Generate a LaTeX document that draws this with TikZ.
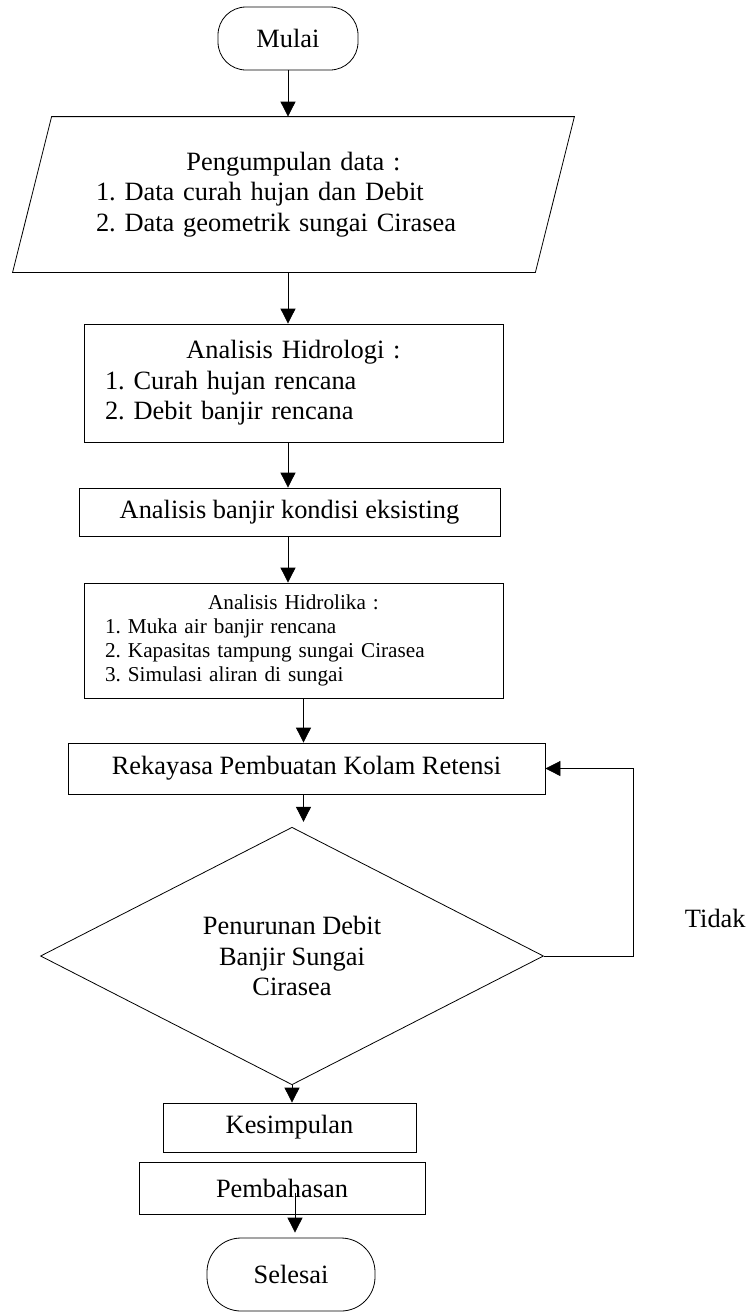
\documentclass[tikz,border=0pt]{standalone}
\usepackage{fontspec}
\setmainfont{Liberation Serif}
\usetikzlibrary{arrows.meta, calc, shapes.geometric, positioning}
\tikzset{ box/.style = {draw, line width=0.8pt, inner sep=0pt, font=\fontsize{26.4}{30.4}\selectfont},
  flow/.style = {draw, line width=0.8pt, -{Triangle[length=15pt, width=15pt]}} }
\setlength{\parindent}{0pt}
\frenchspacing

\begin{document}
\begin{tikzpicture}[x=1pt, y=-1pt]
  \useasboundingbox (0,0) rectangle (746,1312);
  \node[box, rounded corners=28pt, minimum width=140pt, minimum height=63pt] (mulai) at (288,38.5) {Mulai};
  \node[box, draw=none, text width=522pt, minimum height=155pt] (data) at (293.5,194.5)
    {{\centering Pengumpulan data :\par}\hspace*{63.5pt}1. Data curah hujan dan Debit\par\hspace*{63.5pt}2. Data geometrik sungai Cirasea};
  \node[box, text width=419pt, minimum height=118pt] (hidro) at (293.5,383)
    {{\centering Analisis Hidrologi :\par}\hspace*{21pt}1. Curah hujan rencana\par\hspace*{21pt}2. Debit banjir rencana};
  \node[box, minimum width=421pt, minimum height=48pt] (eksisting) at (289.5,512) {Analisis banjir kondisi eksisting};
  \node[box, font=\fontsize{21.2}{24}\selectfont, text width=419pt, minimum height=115pt] (hidrolika) at (293.5,640.5)
    {{\centering Analisis Hidrolika :\par}\hspace*{21pt}1. Muka air banjir rencana\par\hspace*{21pt}2. Kapasitas tampung sungai Cirasea\par\hspace*{21pt}3. Simulasi aliran di sungai};
  \node[box, minimum width=477pt, minimum height=51pt] (rekayasa) at (306.5,768.5) {Rekayasa Pembuatan Kolam Retensi};
  \node[box, diamond, align=center, minimum width=503pt, minimum height=226pt] (keputusan) at (292,956)
    {Penurunan Debit\\Banjir Sungai\\Cirasea};
  \node[box, draw=none, anchor=east] (tidak) at (746,918) {Tidak};
  \node[box, minimum width=253pt, minimum height=49pt] (kesimpulan) at (289.5,1127.5) {Kesimpulan};
  \node[box, minimum width=286pt, minimum height=52pt] (pembahasan) at (282,1188) {Pembahasan};
  \node[box, rounded corners=34pt, minimum width=168pt, minimum height=73pt] (selesai) at (291,1274.5) {Selesai};

  % parallelogram round the data node
  \draw[line width=0.8pt] ($(data.north west)+(19.5,0)$) -- ($(data.north east)+(19.5,0)$)
    -- ($(data.south east)+(-19.5,0)$) -- ($(data.south west)+(-19.5,0)$) -- cycle;

  \draw[flow] (mulai) -- (mulai |- data.north);
  \draw[flow] (data.south -| mulai) -- (hidro.north -| mulai);
  \draw[flow] (hidro.south -| mulai) -- (eksisting.north -| mulai);
  \draw[flow] (eksisting.south -| mulai) -- (hidrolika.north -| mulai);
  \draw[flow] ($(hidrolika.south -| rekayasa)+(-3,0)$) -- ($(rekayasa.north)+(-3,0)$);
  \draw[flow] ($(rekayasa.south)+(-3,0)$) -- ($(rekayasa.south |- keputusan.north)+(-3,-5)$);
  \draw[flow] (keputusan.east) -- ++(89,0) |- (rekayasa.east);
  \draw[flow] (keputusan.south) -- (keputusan.south |- kesimpulan.north);
  \coordinate (turun) at ($(pembahasan.center)+(13,5)$);
  \draw[flow, shorten >=5pt] (turun) -- (turun |- selesai.north);
\end{tikzpicture}
\end{document}
